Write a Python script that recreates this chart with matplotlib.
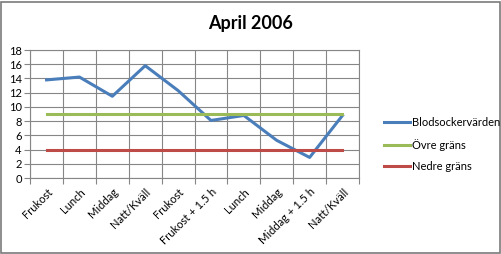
import matplotlib
matplotlib.use('Agg')
import matplotlib.pyplot as plt
import numpy as np

# data
categories = ['Frukost', 'Lunch', 'Middag', 'Natt/Kväll', 'Frukost', 'Frukost + 1.5 h',
              'Lunch', 'Middag', 'Middag + 1.5 h', 'Natt/Kväll']
blodsocker = [13.8, 14.2, 11.5, 15.8, 12.3, 8.1, 8.8, 5.3, 2.9, 8.8]
ovre = [9] * 10
nedre = [4] * 10

plt.rcParams['font.family'] = ['Lato', 'DejaVu Sans']

fig = plt.figure(figsize=(5.02, 2.54), dpi=100)
ax = fig.add_axes([0.06, 0.299, 0.655, 0.504])

x = np.arange(len(categories))
ax.plot(x, blodsocker, color='#4A7EBB', lw=2.2, label='Blodsockervärden', zorder=3)
ax.plot(x, ovre, color='#9BBB59', lw=2.2, label='Övre gräns', zorder=3)
ax.plot(x, nedre, color='#BE4B48', lw=2.2, label='Nedre gräns', zorder=3)

ax.set_xlim(-0.5, len(categories) - 0.5)
ax.set_ylim(0, 18)
ax.set_yticks(range(0, 19, 2))
ax.set_xticks(np.arange(-0.5, len(categories), 1))
ax.set_xticklabels([])
ax.set_xticks(x, minor=True)
ax.set_xticklabels(categories, minor=True, rotation=45, ha='right', va='top',
                   rotation_mode='anchor', fontsize=8)
ax.tick_params(axis='x', which='minor', length=0, pad=6)
ax.tick_params(axis='x', which='major', length=4, color='#868686', direction='out')
ax.tick_params(axis='y', length=4, color='#868686', labelsize=8, pad=2)

ax.grid(True, which='major', color='#868686', lw=0.8)
for s in ax.spines.values():
    s.set_color('#868686')
    s.set_linewidth(0.8)

fig.suptitle('April 2006', x=0.5, y=0.94, fontsize=13, fontweight='bold')

fig.legend(loc='center left', bbox_to_anchor=(0.745, 0.43), frameon=False, fontsize=8,
           handlelength=2.3, labelspacing=0.95, handletextpad=0.2)

# border
fig.patches.append(plt.Rectangle((0.002, 0.004), 0.995, 0.99, transform=fig.transFigure,
                                 fill=False, edgecolor='#7a7a7a', lw=1.2))

fig.savefig('out.png', dpi=100)
